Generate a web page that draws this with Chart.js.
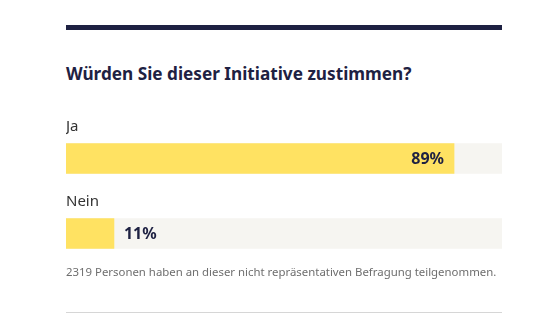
<!DOCTYPE html>
<html lang="de">
<head>
<meta charset="utf-8">
<script src="https://cdn.jsdelivr.net/npm/chart.js@4"></script>
<style>
  html, body { margin: 0; padding: 0; background: #fff; }
  body { width: 555px; height: 325px; position: relative; overflow: hidden; font-family: "Noto Sans", sans-serif; }
  .rule { position: absolute; left: 66px; top: 25px; width: 436px; height: 5px; background: #1e2142; }
  h2 { position: absolute; left: 66px; top: 62px; margin: 0; font-size: 17.2px; font-weight: 700; color: #1e2142; line-height: 24px; white-space: nowrap; }
  .wrap { position: absolute; left: 66px; top: 100px; width: 436px; height: 171px; }
  .note { position: absolute; left: 66px; top: 264px; margin: 0; font-size: 11.4px; color: #6e6e6e; line-height: 16px; white-space: nowrap; }
  .bottom { position: absolute; left: 66px; top: 312px; width: 436px; height: 1px; background: #d6d6d6; }
</style>
</head>
<body>
<div class="rule"></div>
<h2>Würden Sie dieser Initiative zustimmen?</h2>
<div class="wrap"><canvas id="chart"></canvas></div>
<p class="note">2319 Personen haben an dieser nicht repräsentativen Befragung teilgenommen.</p>
<div class="bottom"></div>
<script>
const categories = ["Ja", "Nein"];
const shares = [89, 11];
const trackValues = [100, 100];

const ink = "#1e2142";

// category names above the bars, percentages next to the bar ends
const labelPlugin = {
  id: "pollLabels",
  afterDatasetsDraw(chart) {
    const ctx = chart.ctx;
    const meta = chart.getDatasetMeta(0);
    const x0 = chart.scales.x.getPixelForValue(0);
    ctx.save();
    meta.data.forEach((bar, i) => {
      const top = bar.y - bar.height / 2;
      ctx.fillStyle = "#333";
      ctx.font = "15px 'Noto Sans'";
      ctx.textAlign = "left";
      ctx.textBaseline = "alphabetic";
      ctx.fillText(categories[i], x0, top - 13);

      ctx.fillStyle = ink;
      ctx.font = "bold 16px 'Noto Sans'";
      ctx.textBaseline = "middle";
      const txt = shares[i] + "%";
      if (shares[i] > 50) {
        ctx.textAlign = "right";
        ctx.fillText(txt, bar.x - 10, bar.y + 1);
      } else {
        ctx.textAlign = "left";
        ctx.fillText(txt, bar.x + 10, bar.y + 1);
      }
    });
    ctx.restore();
  }
};

new Chart(document.getElementById("chart"), {
  type: "bar",
  data: {
    labels: categories,
    datasets: [
      {
        data: shares,
        backgroundColor: "#ffe262",
        barThickness: 30,
        order: 1
      },
      {
        data: trackValues,
        backgroundColor: "#f6f5f1",
        barThickness: 30,
        order: 2
      }
    ]
  },
  options: {
    indexAxis: "y",
    responsive: true,
    maintainAspectRatio: false,
    animation: false,
    layout: { padding: { top: 21, bottom: 0, left: 0, right: 0 } },
    datasets: { bar: { grouped: false, borderWidth: 0 } },
    scales: {
      x: { display: false, min: 0, max: 100 },
      y: { display: false }
    },
    plugins: {
      legend: { display: false },
      tooltip: { enabled: false }
    }
  },
  plugins: [labelPlugin]
});
</script>
</body>
</html>
